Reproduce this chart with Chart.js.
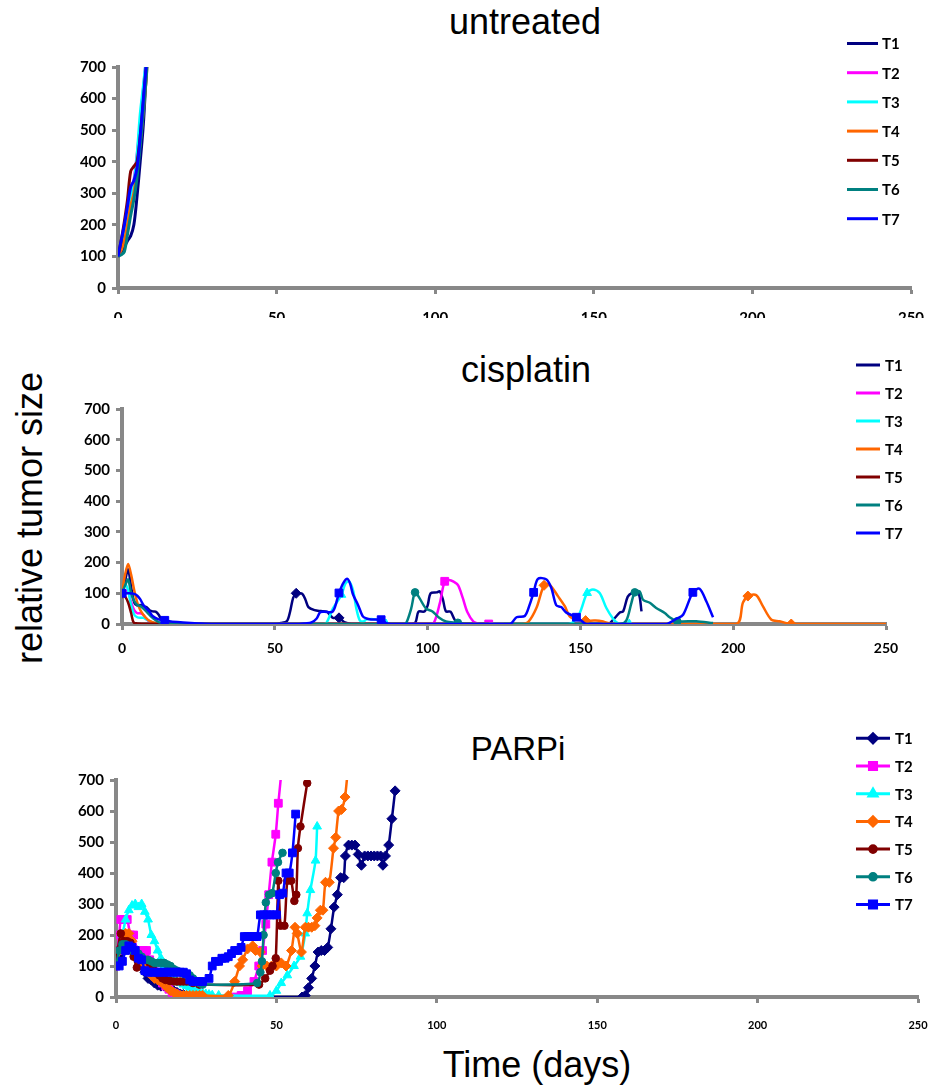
<!DOCTYPE html>
<html>
<head>
<meta charset="utf-8">
<script src="https://cdn.jsdelivr.net/npm/chart.js@4.4.1/dist/chart.umd.min.js"></script>
<style>
  html, body { margin: 0; padding: 0; background: #fff; width: 930px; height: 1090px; overflow: hidden; }
  .panel { position: absolute; left: 0; width: 930px; overflow: hidden; }
  .panel canvas { position: absolute; left: 0; top: 0; }
  .txt { position: absolute; font-family: "Liberation Sans", Arial, sans-serif; color: #000;
         white-space: nowrap; line-height: 1; transform: translate(-50%, -50%); }
</style>
</head>
<body>
<div class="txt" style="left:525px;top:22px;font-size:36px">untreated</div>
<div class="txt" style="left:526px;top:370px;font-size:36px">cisplatin</div>
<div class="txt" style="left:518px;top:748px;font-size:33px">PARPi</div>
<div class="txt" style="left:30px;top:518px;font-size:36px;transform:translate(-50%,-50%) rotate(-90deg)">relative tumor size</div>
<div class="txt" style="left:537px;top:1065px;font-size:36px">Time (days)</div>

<div class="panel" style="top:0;height:321px"><canvas id="untreated" width="960" height="345"></canvas></div>
<div class="panel" style="top:330px;height:345px"><canvas id="cisplatin" width="960" height="345"></canvas></div>
<div class="panel" style="top:700px;height:360px"><canvas id="parpi" width="960" height="360"></canvas></div>

<script>
const seriesNames = ['T1', 'T2', 'T3', 'T4', 'T5', 'T6', 'T7'];
const seriesColors = ['#000080', '#FF00FF', '#00FFFF', '#FF6600', '#800000', '#008080', '#0000FF'];
const markerStyles = ['rectRot', 'rect', 'triangle', 'rectRot', 'circle', 'circle', 'rect'];
const markerSizes = { rect: 5.5, rectRot: 5, triangle: 5, circle: 3.8 };

const xTickValues = [0, 50, 100, 150, 200, 250];
const yTickValues = [0, 100, 200, 300, 400, 500, 600, 700];

// untreated: daily measurements
const untreatedDays = [0, 1, 2, 3, 4, 5, 6, 7, 8, 9, 10];
const untreatedT1 = [100, 110, 130, 150, 165, 200, 290, 400, 520, 700, 900];
const untreatedT2 = [100, 140, 180, 230, 290, 340, 420, 520, 630, 740, 900];
const untreatedT3 = [100, 130, 170, 220, 290, 330, 420, 550, 640, 740, 900];
const untreatedT4 = [100, 120, 150, 200, 260, 300, 380, 460, 560, 680, 900];
const untreatedT5 = [100, 150, 210, 280, 370, 385, 400, 480, 590, 720, 900];
const untreatedT6 = [100, 105, 115, 170, 230, 280, 350, 450, 560, 680, 850];
const untreatedT7 = [100, 150, 200, 260, 320, 340, 380, 480, 600, 720, 900];

// cisplatin: [day, size]
const cisT1 = [[0,100],[1,140],[2,178],[3,120],[4,70],[5,60],[6,62],[7,58],[8,55],[9,45],[10,41],[11,40],[12,30],[13,12],[14,5],[16,2],[20,0],[50,0],[52,3],[54,10],[55,40],[56,85],[57,100],[58,100],[59,98],[60,80],[61,55],[63,45],[65,42],[67,40],[68,30],[69,20],[71,20],[72,12],[73,5],[75,0],[94,0],[96,5],[97,40],[99,41],[100,60],[101,100],[103,103],[104,106],[105,80],[106,41],[107.5,40],[109,12],[111,2],[113,0],[159,0],[161,17],[163,38],[164,41],[165.5,89],[167,101],[169,101],[170,41]];
const cisT2 = [[0,100],[1,108],[2,105],[3,70],[4,45],[5,35],[6,35],[7,30],[8,15],[10,3],[12,0],[100,0],[102,3],[104,68],[105.6,139],[107,143],[108.5,138],[110,126],[111.5,85],[113,39],[115,8],[117,1],[120,0],[125,0]];
const cisT3 = [[0,100],[1,130],[2,110],[3,60],[4,30],[5,22],[6,20],[7,20],[8,15],[10,5],[12,0],[14,0],[66,0],[67,5],[69,50],[71.8,95],[73,130],[74.2,140],[75.6,110],[76.7,50],[77.8,12],[79,8],[80,15],[83,15],[85,5],[86.4,0],[146,0],[147.6,6],[149.8,36],[152.2,101],[154.1,112],[156.3,101],[158.5,52],[160.7,17],[161.8,6],[163,0],[166,0]];
const cisT4 = [[0,100],[1,160],[2,195],[3,160],[4,110],[5,70],[6,45],[7,30],[8,18],[9,10],[11,3],[14,0],[131,0],[132.9,6],[135.6,52],[138.1,126],[139.9,128],[142.7,90],[144.9,58],[146.5,25],[148.7,14],[151.7,11],[155,11],[157,9],[159,3],[161,0],[201,0],[203.2,70],[204.8,91],[207.5,94],[209.7,58],[212.5,14],[215.2,9],[219,0],[250,0]];
const cisT5 = [[0,100],[1,90],[2,70],[3,35],[3.8,5],[5,2],[10,1],[20,0],[120,0]];
const cisT6 = [[0,100],[1,125],[2,145],[3,100],[4,75],[5,62],[6,58],[7,50],[8,40],[9,30],[10,20],[12,6],[14,2],[16,0],[92,0],[93,3],[94.6,49],[95.9,103],[97.3,85],[99.5,50],[101.6,41],[103.8,20],[106,8],[109.9,4],[112,0],[163,0],[165,11],[166.7,69],[167.8,103],[169.4,106],[170.5,79],[172.7,69],[174.8,52],[177.6,36],[179.2,22],[181.7,9],[187.9,9],[193.4,3]];
const cisT7 = [[0,100],[2,100],[4,98],[5,92],[6,80],[7,62],[8,50],[9,40],[10,26],[12,15],[14,12],[16,8],[20,5],[25,2],[30,0],[58,0],[60,2],[62,5],[63.7,18],[64.8,38],[66,40],[69,41],[71,101],[72.5,135],[73.8,147],[74.7,130],[75.6,96],[77.2,63],[78.8,25],[80,18],[81.5,15],[83,15],[84.8,14],[86.5,3],[88,0],[126.9,0],[129.1,22],[131.8,26],[133.4,63],[134.7,103],[136.1,147],[138.9,145],[140.5,117],[142.1,61],[143.7,55],[145.4,37],[148.7,22],[150.9,6],[152,0],[178.1,0],[181.4,17],[183.6,30],[186.8,103],[189,115],[191.2,74],[193.4,22]];

// days on which the cisplatin curves carry a marker
const cisMarksT1 = [0, 57, 71];
const cisMarksT2 = [0, 105.6, 120];
const cisMarksT3 = [0, 14, 71.8, 86.4, 152.2, 166];
const cisMarksT4 = [0, 14, 138.1, 151.7, 204.8, 219];
const cisMarksT5 = [0];
const cisMarksT6 = [0, 95.9, 109.9, 167.8, 181.7];
const cisMarksT7 = [0, 14, 71, 84.8, 134.7, 148.7, 186.8];

// PARPi: [day, size]
const parpT1 = [[0,100],[1,130],[2,150],[3,170],[4,180],[5,165],[6,140],[7,120],[8,100],[9,80],[10,60],[11,55],[12,45],[13,38],[14,35],[15,35],[16,30],[17,25],[18,20],[19,15],[20,10],[21,8],[22,5],[24,2],[26,0],[58,0],[59,5],[60,30],[61,60],[62,100],[63,145],[64,150],[65,150],[66,160],[67,220],[68,290],[69,330],[70,385],[71,385],[71.5,455],[72.5,490],[73.5,490],[74.5,490],[75.5,460],[76.5,425],[77.5,455],[78.5,455],[79.5,455],[80.5,455],[81.5,455],[82.5,455],[83.2,425],[84,455],[85,490],[86,575],[87,665]];
const parpT2 = [[0,100],[0.5,150],[1,200],[1.5,250],[2.5,250],[3.5,250],[4.5,200],[5.5,200],[6.5,150],[7.5,150],[8.5,150],[9.5,150],[10.5,120],[11.5,100],[12.5,80],[13.5,60],[14.5,45],[15.5,35],[16.5,25],[17.5,15],[18.5,10],[19.5,5],[20.5,2],[21.5,0],[22.5,0],[23.5,0],[24.5,0],[25.5,0],[37,0],[39,5],[41,20],[43,50],[44.5,100],[45.7,150],[46.7,235],[47.6,330],[48.6,435],[49.8,525],[50.6,625],[51.9,760]];
const parpT3 = [[0,100],[1,150],[2,200],[3,250],[4,280],[5,295],[6,300],[7,290],[8,300],[9,275],[10,250],[11,200],[12,180],[13,150],[14,125],[15,100],[16,85],[17,70],[18,60],[19,50],[20,45],[21,40],[22,35],[23,30],[24,25],[25,20],[26,15],[27,12],[28,10],[29,8],[30,6],[32,5],[48,5],[50,20],[51.5,45],[53.4,70],[55.5,100],[57.5,130],[59,205],[59.6,270],[60.6,345],[62.2,440],[62.7,550]];
const parpT4 = [[0,100],[1,150],[2,200],[3,205],[4,205],[5,180],[6,150],[7,130],[8,110],[9,100],[10,80],[11,70],[12,60],[13,55],[14,50],[15,40],[16,30],[17,20],[18,15],[19,10],[20,5],[21,5],[22,5],[23,5],[24,5],[25,5],[26,5],[27,5],[35,5],[37,50],[38.5,100],[39.5,120],[41,155],[42.6,165],[43.5,150],[45,145],[45.5,100],[47,100],[48.5,100],[50,100],[51.5,110],[53,100],[54.7,150],[55.8,225],[56.5,205],[57.8,145],[59,225],[60,225],[61,225],[62,230],[62.7,255],[63.7,280],[64.5,280],[65.3,370],[66.5,370],[67.8,480],[68.5,515],[69.4,600],[70.3,605],[71.4,645],[72.5,760]];
const parpT5 = [[0,100],[0.5,150],[1.5,205],[2.5,180],[3.5,180],[4.5,175],[5.5,130],[6.5,95],[7.5,120],[8.5,120],[9.5,120],[10.5,110],[11.5,100],[12.5,80],[13.5,70],[14.5,60],[15.5,55],[16.8,52],[18,50],[19,50],[20,50],[21,50],[22,50],[23,50],[24,45],[26,40],[44.6,40],[46.5,60],[48,85],[48.8,100],[49.8,125],[50.6,375],[51.3,230],[52.5,230],[53.4,375],[54.6,375],[55.6,310],[56.2,330],[56.7,480],[57.5,550],[59.6,690]];
const parpT6 = [[0,100],[1,150],[2,170],[3,170],[4,160],[5,150],[6,150],[7,140],[8,130],[9,120],[10,120],[11,115],[12,110],[13,110],[14,110],[15,110],[16,105],[17,100],[18,90],[19,85],[20,80],[21,75],[22,72],[23,70],[24,60],[25,50],[26,45],[27,40],[44,45],[45,80],[45.5,115],[46,200],[46.7,305],[47.7,330],[48.7,335],[49.8,400],[50.5,435],[51.9,465]];
const parpT7 = [[0,100],[1,100],[2,115],[3,150],[4,165],[5,160],[6,150],[7,125],[8,120],[9,85],[10,80],[11,80],[12,80],[13,80],[14,80],[15,80],[16,80],[17,80],[18,80],[19,80],[20,80],[21,80],[22,75],[23,55],[24,50],[25,50],[26,50],[27,50],[29,60],[30,100],[31,115],[32,115],[33,125],[34,125],[35,130],[36,140],[37,150],[38,150],[39,160],[40,195],[41,195],[42,195],[43,195],[44,195],[45,265],[46,265],[47,265],[48,265],[49,265],[50,265],[51,330],[52,335],[53,400],[54,400],[55,465],[56,590]];

const untreatedSeries = [untreatedT1, untreatedT2, untreatedT3, untreatedT4, untreatedT5, untreatedT6, untreatedT7]
  .map(vals => vals.map((v, k) => [untreatedDays[k], v]));
const cisSeries = [cisT1, cisT2, cisT3, cisT4, cisT5, cisT6, cisT7];
const cisMarks = [cisMarksT1, cisMarksT2, cisMarksT3, cisMarksT4, cisMarksT5, cisMarksT6, cisMarksT7];
const parpSeries = [parpT1, parpT2, parpT3, parpT4, parpT5, parpT6, parpT7];

function makeSets(series, width, tension, marks) {
  return series.map((pts, i) => {
    const size = markerSizes[markerStyles[i]];
    let radius = 0;
    if (marks === 'all') radius = size;
    else if (marks) radius = ctx => (ctx.raw && marks[i].includes(ctx.raw.x)) ? size : 0;
    return {
      label: seriesNames[i],
      data: pts.map(([x, y]) => ({ x, y })),
      borderColor: seriesColors[i],
      backgroundColor: seriesColors[i],
      borderWidth: width,
      tension: tension,
      pointStyle: markerStyles[i],
      pointRadius: radius,
      pointBorderWidth: 1,
      order: series.length - i,
    };
  });
}

// legend drawn as line (+ marker) and name, stacked at the top right
function keyPlugin(k) {
  return {
    id: 'seriesKey',
    afterDraw(chart) {
      const c = chart.ctx;
      c.save();
      chart.data.datasets.forEach((ds, i) => {
        const y = k.top + k.step * i;
        c.strokeStyle = ds.borderColor;
        c.lineWidth = 3;
        c.beginPath();
        c.moveTo(k.x1, y);
        c.lineTo(k.x2, y);
        c.stroke();
        if (k.markers) {
          c.fillStyle = ds.borderColor;
          Chart.helpers.drawPoint(c, {
            pointStyle: ds.pointStyle,
            radius: markerSizes[ds.pointStyle] - 0.5,
            rotation: 0,
            borderWidth: 1,
          }, (k.x1 + k.x2) / 2, y);
        }
        c.fillStyle = '#000';
        c.font = 'bold 15px Lato';
        c.textBaseline = 'middle';
        c.fillText(ds.label, k.tx, y + 1);
      });
      c.restore();
    }
  };
}

function axisOpts(fontX, fontY, padX, axisH, axisW) {
  const gridOpts = { drawOnChartArea: false, drawTicks: true, tickLength: 6, tickWidth: 3, tickColor: '#888' };
  return {
    x: {
      type: 'linear', min: 0, max: 250,
      afterBuildTicks: s => { s.ticks = xTickValues.map(v => ({ value: v })); },
      ticks: { color: '#000', font: { family: 'Lato', weight: 'bold', size: fontX }, padding: padX, maxRotation: 0 },
      grid: gridOpts,
      border: { color: '#888', width: 4 },
      afterFit: s => { s.height = axisH; },
    },
    y: {
      min: 0, max: 700,
      afterBuildTicks: s => { s.ticks = yTickValues.map(v => ({ value: v })); },
      ticks: { color: '#000', font: { family: 'Lato', weight: 'bold', size: fontY }, padding: 6 },
      grid: gridOpts,
      border: { color: '#888', width: 4 },
      afterFit: s => { s.width = axisW; },
    },
  };
}

function drawPanel(id, datasets, padding, scales, key) {
  new Chart(document.getElementById(id), {
    type: 'line',
    data: { datasets },
    options: {
      responsive: false,
      animation: false,
      layout: { padding },
      plugins: { legend: { display: false }, tooltip: { enabled: false } },
      scales,
    },
    plugins: [keyPlugin(key)],
  });
}

drawPanel('untreated',
  makeSets(untreatedSeries, 3, 0.3, null),
  { left: 0, top: 67, right: 49, bottom: 27 },
  axisOpts(15, 15, 15, 30, 118),
  { top: 43.5, step: 29.2, x1: 847, x2: 878, tx: 882, markers: false });

drawPanel('cisplatin',
  makeSets(cisSeries, 2.5, 0.3, cisMarks),
  { left: 0, top: 79, right: 74, bottom: 11 },
  axisOpts(14, 15, 10, 40, 122),
  { top: 35, step: 28, x1: 856, x2: 880, tx: 885, markers: false });

drawPanel('parpi',
  makeSets(parpSeries, 2.5, 0.2, 'all'),
  { left: 0, top: 80, right: 42, bottom: 23 },
  axisOpts(11, 15, 16, 40, 116),
  { top: 38.3, step: 27.7, x1: 856, x2: 890, tx: 895, markers: true });
</script>
</body>
</html>
